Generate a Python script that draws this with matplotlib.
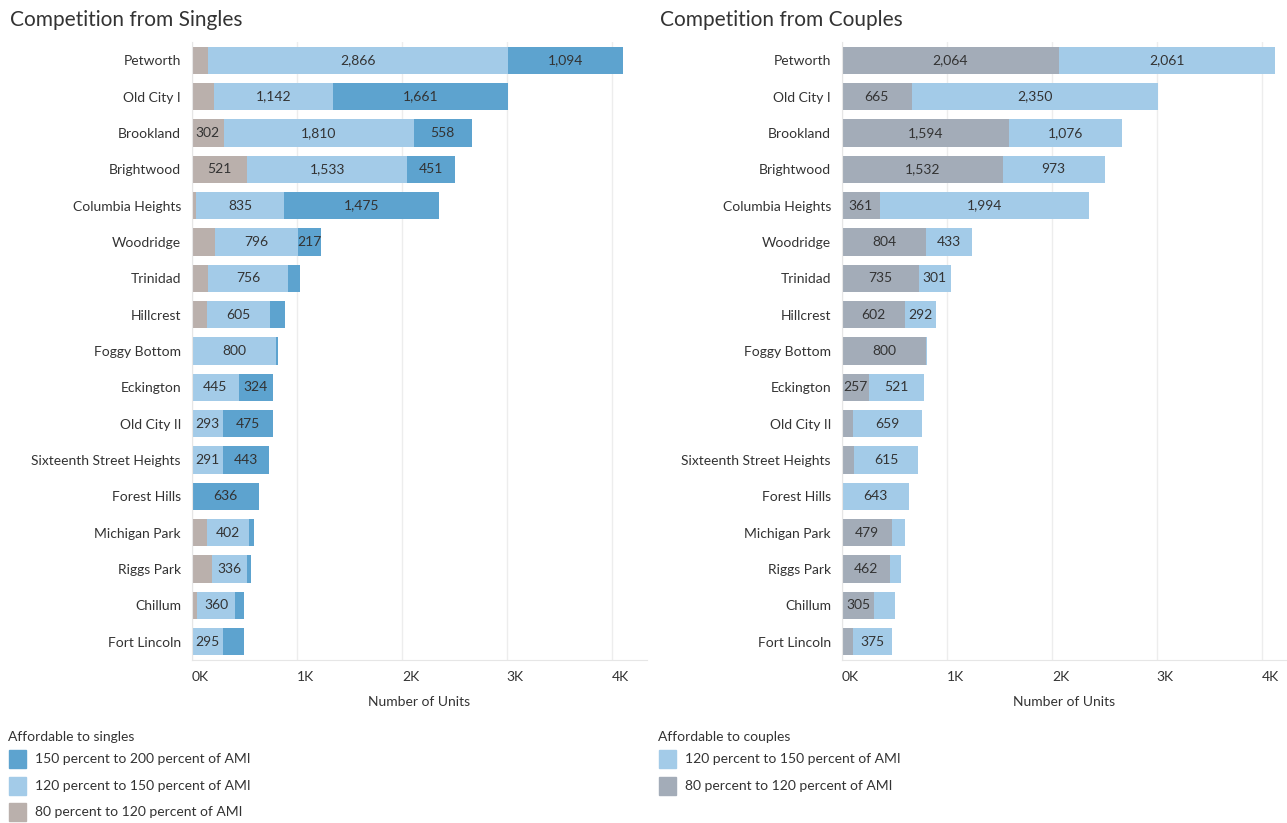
import matplotlib
matplotlib.use("Agg")
import matplotlib.pyplot as plt
from matplotlib.patches import Rectangle

plt.rcParams['font.family'] = ['Lato', 'DejaVu Sans']

neighborhoods = ["Petworth", "Old City I", "Brookland", "Brightwood", "Columbia Heights",
                 "Woodridge", "Trinidad", "Hillcrest", "Foggy Bottom", "Eckington",
                 "Old City II", "Sixteenth Street Heights", "Forest Hills", "Michigan Park",
                 "Riggs Park", "Chillum", "Fort Lincoln"]

# Singles
singles_80_120 = [150, 206, 302, 521, 40, 218, 155, 139, 0, 0, 0, 0, 0, 139, 190, 52, 0]
singles_120_150 = [2866, 1142, 1810, 1533, 835, 796, 756, 605, 800, 445, 293, 291, 0, 402, 336, 360, 295]
singles_150_200 = [1094, 1661, 558, 451, 1475, 217, 115, 139, 15, 324, 475, 443, 636, 48, 40, 79, 198]

# Couples
couples_80_120 = [2064, 665, 1594, 1532, 361, 804, 735, 602, 800, 257, 101, 112, 0, 479, 462, 305, 101]
couples_120_150 = [2061, 2350, 1076, 973, 1994, 433, 301, 292, 8, 521, 659, 615, 643, 124, 97, 198, 375]

tick_values = [0, 1000, 2000, 3000, 4000]
tick_labels = ["0K", "1K", "2K", "3K", "4K"]

C_DARK = "#5DA3CF"
C_LIGHT = "#A3CBE8"
C_BROWN = "#BAB0AC"
C_GREY = "#A3ACB8"
TXT = "#333333"

W, H = 1287, 823
fig = plt.figure(figsize=(W / 100, H / 100), dpi=100)


def px_axes(x0, y0, x1, y1):
    return fig.add_axes([x0 / W, (H - y1) / H, (x1 - x0) / W, (y1 - y0) / H])


def draw_panel(ax, series, colors, thresholds, xmax, title, title_x):
    n = len(neighborhoods)
    y = list(range(n))
    left = [0] * n
    for vals, col, thr in zip(series, colors, thresholds):
        ax.barh(y, vals, left=left, height=0.75, color=col, edgecolor='none', zorder=2)
        for i, v in enumerate(vals):
            if v >= thr:
                ax.text(left[i] + v / 2, i, f"{v:,}", ha='center', va='center',
                        fontsize=10, color=TXT, zorder=3)
        left = [a + b for a, b in zip(left, vals)]
    ax.set_ylim(n - 0.5, -0.5)
    ax.set_xlim(0, xmax)
    ax.set_yticks(y)
    ax.set_yticklabels(neighborhoods, fontsize=10, color=TXT)
    ax.set_xticks(tick_values)
    ax.set_xticklabels(tick_labels, fontsize=10, color=TXT)
    ax.tick_params(axis='both', length=0)
    ax.tick_params(axis='y', pad=8)
    ax.tick_params(axis='x', pad=8)
    for lbl in ax.get_xticklabels():
        lbl.set_horizontalalignment('left')
    ax.grid(axis='x', color='#EDEDED', linewidth=1, zorder=0)
    for s in ['top', 'right']:
        ax.spines[s].set_visible(False)
    ax.spines['left'].set_color('#E6E6E6')
    ax.spines['bottom'].set_color('#E6E6E6')
    ax.set_xlabel("Number of Units", fontsize=10, color=TXT, labelpad=9)
    fig.text(title_x / W, 1 - 20 / H, title, fontsize=15, color=TXT, ha='left', va='center')


ax1 = px_axes(192, 42, 647, 660)
draw_panel(ax1, [singles_80_120, singles_120_150, singles_150_200],
           [C_BROWN, C_LIGHT, C_DARK], [250, 210, 210], 4337,
           "Competition from Singles", 10)

ax2 = px_axes(842, 42, 1287, 660)
draw_panel(ax2, [couples_80_120, couples_120_150],
           [C_GREY, C_LIGHT], [250, 250], 4242,
           "Competition from Couples", 660)

# Legends
def legend(x, title, items):
    fig.text(x / W, 1 - 737 / H, title, fontsize=10, color=TXT, ha='left', va='center')
    for k, (lab, col) in enumerate(items):
        yc = 759 + k * 26.5
        fig.patches.append(Rectangle(((x + 1) / W, 1 - (yc + 9) / H), 17 / W, 18 / H,
                                     transform=fig.transFigure, color=col))
        fig.text((x + 27) / W, 1 - yc / H, lab, fontsize=10, color=TXT, ha='left', va='center')


legend(8, "Affordable to singles",
       [("150 percent to 200 percent of AMI", C_DARK),
        ("120 percent to 150 percent of AMI", C_LIGHT),
        ("80 percent to 120 percent of AMI", C_BROWN)])
legend(658, "Affordable to couples",
       [("120 percent to 150 percent of AMI", C_LIGHT),
        ("80 percent to 120 percent of AMI", C_GREY)])

fig.savefig("out.png", dpi=100)
